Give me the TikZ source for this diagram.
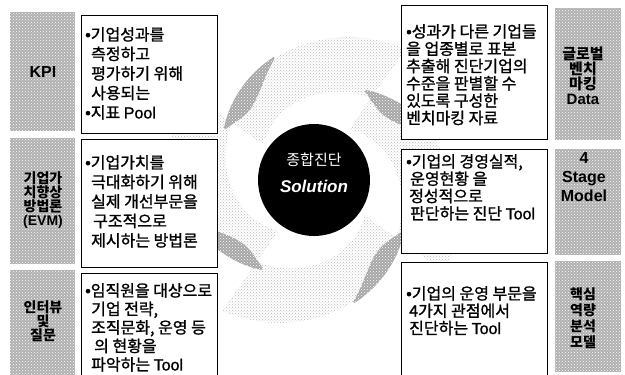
\documentclass[tikz,border=0pt]{standalone}
\usepackage{fontspec}
\setmainfont{Noto Sans CJK KR}
\newfontfamily\krm{Noto Sans CJK KR}[FakeBold=1.2]
\newfontfamily\lat{Liberation Sans}
\newfontfamily\latm{Liberation Sans}[FakeBold=1.2]
\usetikzlibrary{patterns}
\newcommand\bul{{\latm •}}
\begin{document}
\begin{tikzpicture}[x=1pt,y=-1pt,
  txt/.style={anchor=north west, align=left, inner sep=0pt, font=\krm\fontsize{16}{19.5}\selectfont},
  txtb/.style={txt, font=\krm\fontsize{16}{18.5}\selectfont},
  rtxt/.style={txt, font=\krm\fontsize{16}{17.3}\selectfont},
  lab/.style={align=center, inner sep=0pt, font=\bfseries\fontsize{14}{14}\selectfont},
  latlab/.style={lab, font=\lat\bfseries\fontsize{16}{16}\selectfont},
  box/.style={draw=black, line width=1.1pt, fill=white, anchor=north west, inner sep=0pt},
  graycol/.style={preaction={fill=gray!62}, pattern=crosshatch dots, pattern color=white, anchor=north west, inner sep=0pt},
  light/.style={pattern=crosshatch dots, pattern color=gray!55},
  dark/.style={preaction={fill=gray!70}, pattern=crosshatch dots, pattern color=white}]
\useasboundingbox (0,0) rectangle (625,375);
\fill[white] (0,0) rectangle (625,375);

% swirl behind the centre
\begin{scope}[shift={(314,180)}]
\foreach \o in {0,90,180,270}{
  \path[light] plot[domain=305:215,samples=40] ({\x+\o}:{160-55*(305-\x)/90})
     -- plot[domain=215:305,samples=40] ({\x+\o}:{100-38*(305-\x)/90}) -- cycle;
  \path[dark] plot[domain=252:210,samples=30] ({\x+\o}:{162-55*(305-\x)/90})
     -- plot[domain=210:252,samples=30] ({\x+\o}:{160-55*(305-\x)/90-18*sin(180*(\x-210)/42)}) -- cycle;
}
\end{scope}

% centre
\node[circle, fill=black, minimum size=112pt, inner sep=0pt] (core) at (314,180) {};
\node[text=white, font=\fontsize{15}{15}\selectfont] (coreA) at (314,160) {종합진단};
\node[text=white, font=\lat\bfseries\itshape\fontsize{17}{17}\selectfont] (coreB) at (314,186) {Solution};

% left grey columns
\node[graycol, minimum width=65pt, minimum height=119pt] (g1) at (10,12) {};
\node[graycol, minimum width=65pt, minimum height=126pt] (g2) at (10,138) {};
\node[graycol, minimum width=65pt, minimum height=105pt] (g3) at (10,270) {};
\node[latlab] (l1) at (43,72) {KPI};
\node[lab] (l2) at (43,200) {기업가\\치향상\\방법론\\{\lat (EVM)}};
\node[lab] (l3) at (43,321) {인터뷰\\및\\질문};

% left boxes
\node[box, minimum width=136pt, minimum height=118pt] (b1) at (81,15) {};
\node[box, minimum width=136pt, minimum height=128pt] (b2) at (81,139) {};
\node[box, minimum width=136pt, minimum height=110pt] (b3) at (81,273) {};
\node[txt] (t1) at (85,27) {\bul 기업성과를\\\hspace{6pt}측정하고\\\hspace{6pt}평가하기 위해\\\hspace{6pt}사용되는\\\bul 지표 {\latm Pool}};
\node[txt] (t2) at (85,155) {\bul 기업가치를\\\hspace{6pt}극대화하기 위해\\\hspace{6pt}실제 개선부문을\\\hspace{8pt}구조적으로\\\hspace{6pt}제시하는 방법론};
\node[txtb] (t3) at (85,283) {\bul 임직원을 대상으로\\\hspace{6pt}기업 전략,\\\hspace{6pt}조직문화, 운영 등\\\hspace{9pt}의 현황을\\\hspace{6pt}파악하는 {\latm Tool}};

% right boxes
\node[box, minimum width=146pt, minimum height=134pt] (r1) at (401,5) {};
\node[box, minimum width=146pt, minimum height=104pt] (r2) at (401,149) {};
\node[box, minimum width=146pt, minimum height=114pt] (r3) at (401,262) {};
\node[rtxt] (s1) at (406,24) {\bul 성과가 다른 기업들\\을 업종별로 표본\\추출해 진단기업의\\수준을 판별할 수\\있도록 구성한\\벤치마킹 자료};
\node[rtxt] (s2) at (406,154) {\bul 기업의 경영실적,\\\hspace{4pt}운영현황 을\\\hspace{3pt}정성적으로\\\hspace{4pt}판단하는 진단 {\latm Tool}};
\node[rtxt] (s3) at (406,286) {\bul 기업의 운영 부문을\\\hspace{3pt}4가지 관점에서\\\hspace{3pt}진단하는 {\latm Tool}};

% right grey columns
\node[graycol, minimum width=66pt, minimum height=132pt] (h1) at (555,8) {};
\node[graycol, minimum width=66pt, minimum height=106pt] (h2) at (555,149) {};
\node[graycol, minimum width=66pt, minimum height=111pt] (h3) at (555,261) {};
\node[lab, font=\bfseries\fontsize{15}{15}\selectfont] (m1) at (583,76) {글로벌\\벤치\\마킹\\{\lat Data}};
\node[latlab, font=\lat\bfseries\fontsize{16}{19}\selectfont] (m2) at (584,177) {4\\Stage\\Model};
\node[lab, font=\bfseries\fontsize{14}{16}\selectfont] (m3) at (583,318) {핵심\\역량\\분석\\모델};
\end{tikzpicture}
\end{document}
